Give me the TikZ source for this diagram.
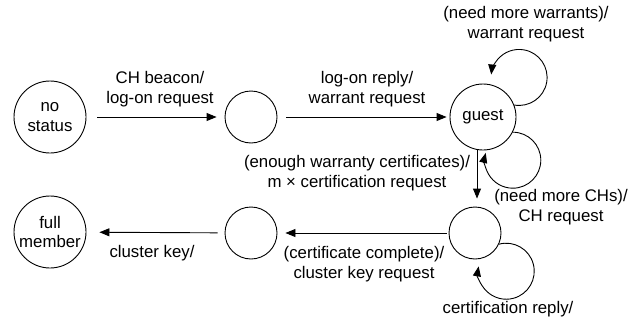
\documentclass[tikz,border=0pt]{standalone}
\usepackage{fontspec}
\setmainfont{Liberation Sans}
\usetikzlibrary{arrows.meta}
\begin{document}
\begin{tikzpicture}[x=1pt,y=1pt,
  every node/.style={font=\fontsize{16.8}{19.5}\selectfont},
  state/.style={draw, circle, line width=0.9pt, inner sep=0pt, align=center},
  lbl/.style={align=center, inner sep=0pt},
  arr/.style={line width=0.9pt, -{Triangle[length=10pt,width=8pt]}}]
\useasboundingbox (0,0) rectangle (639,-324);
% states
\node[state, minimum size=72pt] (ns) at (50,-117) {no\\status};
\node[state, minimum size=52pt] (c2) at (251,-117) {};
\node[state, minimum size=66pt] (guest) at (483,-117) {guest};
\node[state, minimum size=72pt] (fm) at (50,-232) {full\\member};
\node[state, minimum size=52pt] (c5) at (251,-233) {};
\node[state, minimum size=52pt] (c6) at (475,-233) {};
% transitions
\draw[arr, shorten <=11pt, shorten >=8pt] (ns) -- (c2);
\draw[arr, shorten <=9pt, shorten >=3pt] (c2) -- (guest);
\draw[arr, shorten >=8pt] ([xshift=-6pt]guest.south) -- ([xshift=2pt]c6.north);
\draw[arr, shorten <=2pt, shorten >=8pt] (c6) -- (c5);
\draw[arr, shorten <=7pt, shorten >=13pt] (c5) -- (fm);
% self loops
\draw[arr] (guest.21) arc[start angle=-100, end angle=174, radius=28];
\draw[arr] (guest.-27) arc[start angle=90, end angle=-195, radius=28];
\draw[arr] (c6.-25) arc[start angle=105, end angle=-190, radius=28];
% labels
\node[lbl] (l1) at (160,-89) {CH beacon/\\log-on request};
\node[lbl] (l2) at (367,-89) {log-on reply/\\warrant request};
\node[lbl] (l3) at (526,-24) {(need more warrants)/\\warrant request};
\node[lbl] (l4) at (357,-173) {(enough warranty certificates)/\\m × certification request};
\node[lbl] (l5) at (561,-207) {(need more CHs)/\\CH request};
\node[lbl] (l6) at (364,-264) {(certificate complete)/\\cluster key request};
\node[lbl] (l7) at (152,-253) {cluster key/};
\node[lbl] (l8) at (508,-309) {certification reply/};
\end{tikzpicture}
\end{document}
